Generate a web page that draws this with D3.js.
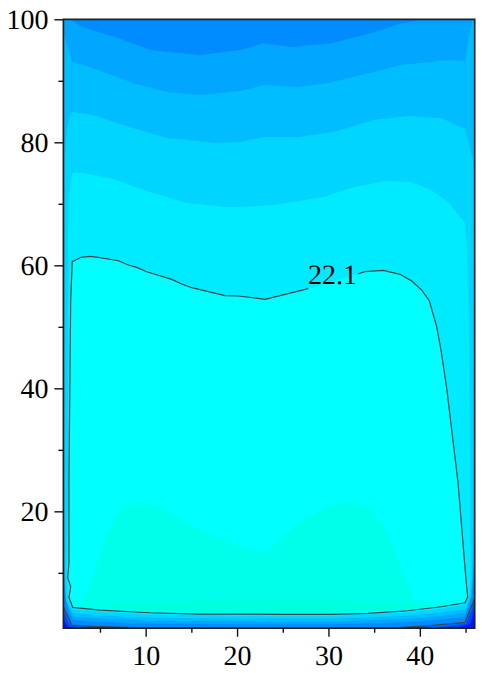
<!DOCTYPE html>
<html><head><meta charset="utf-8">
<script src="https://cdn.jsdelivr.net/npm/d3@7/dist/d3.min.js"></script>
<style>html,body{margin:0;padding:0;background:#fff}svg{display:block;text-rendering:geometricPrecision}</style>
</head><body><svg id="c" width="482" height="673"></svg>
<script>
const xMajor=[10,20,30,40], xMinor=[5,15,25,35,45];
const yMajor=[20,40,60,80,100], yMinor=[10,30,50,70,90];
const plotCorners=[[1,100],[46,100],[46,1],[1,1]];
const contourLabel="22.1", contourLabelAt=[27.77,56.96];

const deepest=[[1,2.33],[1.5,1.19],[2.27,1],[43.85,1],[45.48,1.67],[46,3.95]];
const deeper=[[1,3.63],[1.72,1.35],[5,1],[41,1],[45.05,1.67],[45.7,3.95],[46,5.58]];
const lowerContour=[[1,4.49],[1.91,1.51],[5,1.24],[10.47,1],[36.84,1],[40.86,1.4],[44.94,1.95],[45.85,5.3],[46,6.07]];

const band2=[[1,100],[1.7,100],[3.1,98.7],[6.9,97],[10.5,95],[15.9,94.2],[20.4,95],[22.9,96.1],[25.9,95.5],[30.3,96.1],[35,97.9],[37.6,99.2],[40.6,100],[46,100],[46,10.46],[45.48,5.25],[44.94,2.85],[42.31,2.41],[38.6,1.98],[30.28,1.64],[20.43,1.66],[10.47,1.73],[5,2],[2.05,2.33],[1.61,3.63],[1.18,6.07],[1,9.64]];
const topSliver=[[37.6,99.2],[45.7,99.4],[46,100],[40.6,100]];
const band3=[[1,97.77],[1.94,93.06],[3.91,92.24],[8.61,89.64],[12.33,88.18],[15.95,87.69],[20.43,88.34],[22.95,89.32],[26.67,88.99],[29.95,89.64],[34.98,91.43],[37.94,92.57],[43.08,93.38],[44.94,93.22],[45.76,100],[46,100],[46,16.96],[45.93,12.08],[45.6,6.07],[44.94,3.48],[42.31,2.98],[38.6,2.49],[30.28,2.1],[20.43,2.11],[10.47,2.21],[5,2.54],[2.05,2.89],[1.5,4.76],[1.18,7.2],[1,12.9]];
const band4=[[1.14,77.12],[1.39,82.49],[1.94,84.93],[4.24,84.44],[7.52,82.81],[12.33,80.7],[17.81,79.89],[20.43,80.05],[22.95,80.86],[26.67,80.86],[30.61,81.67],[34.98,83.63],[38.7,84.28],[42.31,83.95],[44.94,82.16],[45.81,77.12],[45.87,73.87],[45.87,21.84],[45.76,12.08],[45.6,6.39],[45.05,4.11],[42.31,3.56],[38.6,3.01],[30.28,2.54],[20.43,2.57],[10.47,2.71],[5,3.09],[2.05,3.46],[1.72,4.11],[1.28,5.58],[1.18,8.83],[1.12,15.33]];
const band5=[[1.5,64.11],[1.61,70.62],[1.94,75.01],[3.14,75.01],[6.1,74.2],[10.47,71.92],[14.52,70.13],[18.9,69.48],[20.43,69.48],[24.04,69.8],[29.51,71.11],[32.47,72.57],[36.08,73.71],[39.03,73.54],[41.22,72.24],[43.08,70.29],[44.94,66.88],[45.16,63.3],[45.38,46.23],[45.49,23.46],[45.54,10.46],[45.38,6.23],[44.94,4.76],[42.31,4.15],[38.6,3.53],[30.28,2.98],[20.43,3.02],[10.47,3.22],[5,3.63],[2.05,4.05],[1.72,4.76],[1.45,6.07],[1.32,9.32],[1.34,11.59],[1.56,25.09]];
const contour221=[[33.2,58.59],[33.99,58.96],[36,59.19],[37.83,58.54],[39.11,57.45],[40.2,55.98],[41.03,54.24],[41.84,50.02],[42.31,46.23],[42.94,40],[43.66,31.06],[44.17,24.76],[45.05,8.83],[45.23,6.11],[44.94,5.14],[42.31,4.49],[38.67,3.84],[34.29,3.41],[30.28,3.25],[24.45,3.25],[20.43,3.3],[15.95,3.3],[10.47,3.51],[5,3.95],[2.02,4.39],[1.61,6.02],[1.8,7.74],[1.47,9.27],[1.61,11.59],[1.61,25.09],[1.65,31.59],[1.8,54.36],[1.97,60.59],[2.93,61.3],[3.91,61.46],[4.82,61.3],[7.01,60.75],[8.1,60.05],[9.02,59.67],[10.11,58.96],[12.85,57.72],[13.94,56.96],[15.04,56.36],[18.68,55.06],[20.14,55.01],[23.06,54.47],[27.79,56.2]];
const hump=[[1.94,6.07],[2.6,5.25],[3.36,5.9],[4.46,10.46],[5.44,15.33],[6.83,19.12],[7.74,21.02],[9.38,21.56],[11.57,20.75],[15.21,17.5],[20.43,14.24],[22.98,13.33],[26.63,18.05],[29.92,20.75],[32.47,21.72],[34.65,20.49],[36.48,16.42],[38.3,9.37],[39.39,5.58],[42.2,5.09],[44.61,5.74],[44.94,5.58],[42.31,4.68],[38.59,4.03],[30.28,3.46],[20.43,3.51],[10.47,3.71],[5,4.2],[2.05,4.68]];
const stripe=[[6.1,4.93],[13.76,5.41],[20.43,5.5],[30.28,5.5],[37.83,5.09],[40.02,4.44],[30.28,3.63],[20.43,3.63],[10.47,3.95],[6.1,4.35]];

const bandColors=["#0018ff","#0040ff","#0068ff","#008cff","#00a6ff","#00a0ff","#00bdff","#00d5ff","#00ebff","#00ffff","#00ffea","#00ffdc"];

const margin={l:63.4,r:474.7,t:19.3,b:628.2};
const x=d3.scaleLinear().domain([1,46]).range([margin.l,margin.r]);
const y=d3.scaleLinear().domain([1,100]).range([margin.b,margin.t]);
const line=d3.line().x(d=>x(d[0])).y(d=>y(d[1]));
const svg=d3.select("#c");
svg.append("defs").append("clipPath").attr("id","plot").append("path").attr("d",line(plotCorners)+"Z");
const g=svg.append("g").attr("clip-path","url(#plot)");

const withTop=a=>[[1,100]].concat(a,[[46,100]]);
const regions=[plotCorners,withTop(deepest),withTop(deeper),withTop(lowerContour),band2,topSliver,band3,band4,band5,contour221,hump,stripe];
g.selectAll("path.band").data(regions).join("path").attr("class","band")
  .attr("d",d=>line(d)+"Z").attr("fill",(d,i)=>bandColors[i]);

g.selectAll("path.iso").data([contour221,lowerContour]).join("path").attr("class","iso")
  .attr("d",line).attr("fill","none").attr("stroke","#444").attr("stroke-width",1.2);

svg.append("text").attr("x",x(contourLabelAt[0])).attr("y",y(contourLabelAt[1]))
  .attr("font-family","Liberation Serif").attr("font-size",28).attr("fill","#000").text(contourLabel);

svg.append("path").attr("d",line(plotCorners)+"Z").attr("fill","none").attr("stroke","#222").attr("stroke-width",1.7);

const styleAxis=s=>{s.select(".domain").remove();
  s.selectAll("line").attr("stroke","#111").attr("stroke-width",1.4);
  s.selectAll("text").attr("font-family","Liberation Serif").attr("font-size",28).attr("fill","#000");};
svg.append("g").attr("transform",`translate(0,${margin.b})`)
  .call(d3.axisBottom(x).tickValues(xMajor).tickSize(8.5).tickPadding(8).tickFormat(d3.format("d"))).call(styleAxis);
svg.append("g").attr("transform",`translate(0,${margin.b})`)
  .call(d3.axisBottom(x).tickValues(xMinor).tickSize(4.5).tickFormat("")).call(styleAxis);
svg.append("g").attr("transform",`translate(${margin.l},0)`)
  .call(d3.axisLeft(y).tickValues(yMajor).tickSize(9).tickPadding(6).tickFormat(d3.format("d"))).call(styleAxis);
svg.append("g").attr("transform",`translate(${margin.l},0)`)
  .call(d3.axisLeft(y).tickValues(yMinor).tickSize(5).tickFormat("")).call(styleAxis);
</script></body></html>
